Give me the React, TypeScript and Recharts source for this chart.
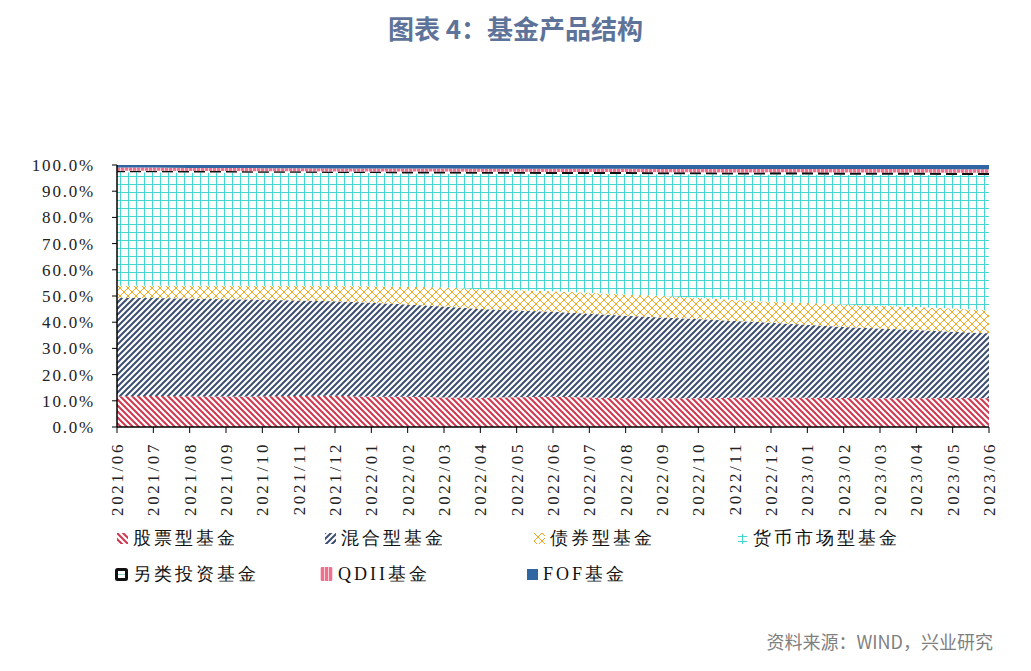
import React from "react";
import { AreaChart, Area, XAxis, YAxis } from "recharts";

const months = [
  "2021/06", "2021/07", "2021/08", "2021/09", "2021/10", "2021/11", "2021/12",
  "2022/01", "2022/02", "2022/03", "2022/04", "2022/05", "2022/06", "2022/07",
  "2022/08", "2022/09", "2022/10", "2022/11", "2022/12", "2023/01", "2023/02",
  "2023/03", "2023/04", "2023/05", "2023/06",
];

// shares in %
const stock = [11.7, 11.8, 11.7, 11.6, 11.7, 11.8, 11.9, 11.5, 11.5, 11.3, 11.2, 11.4, 11.5, 11.3, 11.0, 11.0, 11.0, 11.2, 11.3, 11.2, 11.1, 11.0, 11.0, 11.1, 11.0];
const mixed = [37.6, 37.4, 37.3, 37.2, 36.9, 36.5, 36.1, 35.9, 35.3, 34.7, 33.8, 33.1, 32.5, 31.9, 31.5, 30.8, 30.2, 29.3, 28.5, 27.8, 27.1, 26.6, 26.0, 25.3, 24.8];
const bond = [4.6, 4.7, 4.9, 5.1, 5.2, 5.5, 5.8, 6.3, 6.7, 7.2, 7.6, 7.7, 7.8, 8.0, 8.1, 8.2, 8.1, 8.0, 8.0, 8.3, 8.6, 8.7, 8.8, 8.8, 8.7];
const money = [43.3, 43.3, 43.2, 43.2, 43.2, 43.2, 43.1, 43.2, 43.3, 43.6, 44.1, 44.5, 44.8, 45.4, 46.0, 46.5, 47.2, 47.9, 48.6, 49.1, 49.5, 50.0, 50.5, 51.0, 51.7];
const alt = [0.6, 0.6, 0.6, 0.6, 0.6, 0.6, 0.6, 0.6, 0.7, 0.7, 0.7, 0.7, 0.7, 0.7, 0.7, 0.7, 0.7, 0.7, 0.8, 0.8, 0.8, 0.8, 0.8, 0.8, 0.8];
const qdii = [1.2, 1.2, 1.2, 1.2, 1.2, 1.2, 1.2, 1.2, 1.2, 1.2, 1.2, 1.2, 1.3, 1.3, 1.3, 1.3, 1.3, 1.4, 1.3, 1.3, 1.4, 1.4, 1.4, 1.4, 1.4];
const fof = [1.0, 1.0, 1.1, 1.1, 1.2, 1.2, 1.3, 1.3, 1.3, 1.3, 1.4, 1.4, 1.4, 1.4, 1.4, 1.5, 1.5, 1.5, 1.5, 1.5, 1.5, 1.5, 1.5, 1.6, 1.6];

const yTicks = [0, 10, 20, 30, 40, 50, 60, 70, 80, 90, 100];

const data = months.map((m, i) => ({
  month: m,
  stock: stock[i],
  mixed: mixed[i],
  bond: bond[i],
  money: money[i],
  alt: alt[i],
  qdii: qdii[i],
  fof: fof[i],
}));

const series = [
  { key: "stock", name: "股票型基金", fill: "url(#p-stock)" },
  { key: "mixed", name: "混合型基金", fill: "url(#p-mixed)" },
  { key: "bond", name: "债券型基金", fill: "url(#p-bond)" },
  { key: "money", name: "货币市场型基金", fill: "url(#p-money)" },
  { key: "alt", name: "另类投资基金", fill: "url(#p-alt)" },
  { key: "qdii", name: "QDII基金", fill: "url(#p-qdii)" },
  { key: "fof", name: "FOF基金", fill: "#2F65A0" },
];

const serif = "serif";

function Patterns() {
  return (
    <svg width={0} height={0} style={{ position: "absolute" }}>
      <defs>
        <pattern id="p-stock" width={6} height={6} patternUnits="userSpaceOnUse">
          <rect width={6} height={6} fill="#fff" />
          <path d="M0,0 L6,6 M-1,5 L1,7 M5,-1 L7,1" stroke="#D2374F" strokeWidth={2} />
        </pattern>
        <pattern id="p-mixed" width={6} height={6} patternUnits="userSpaceOnUse">
          <rect width={6} height={6} fill="#fff" />
          <path d="M0,6 L6,0 M-1,1 L1,-1 M5,7 L7,5" stroke="#3D4F70" strokeWidth={2} />
        </pattern>
        <pattern id="p-bond" width={8} height={8} patternUnits="userSpaceOnUse">
          <rect width={8} height={8} fill="#fff" />
          <path d="M0,0 L8,8 M8,0 L0,8" stroke="#F5A31A" strokeWidth={1} />
        </pattern>
        <pattern id="p-money" width={8} height={8} patternUnits="userSpaceOnUse">
          <rect width={8} height={8} fill="#fff" />
          <path d="M0.5,0 L0.5,8 M0,0.5 L8,0.5" stroke="#45D8D0" strokeWidth={1} />
        </pattern>
        <pattern id="p-alt" width={16} height={3} patternUnits="userSpaceOnUse">
          <rect width={16} height={3} fill="#fff" />
          <rect x={2} y={0} width={11} height={3} fill="#111" />
        </pattern>
        <pattern id="p-qdii" width={4} height={4} patternUnits="userSpaceOnUse">
          <rect width={4} height={4} fill="#EF6F8C" />
          <rect x={0} y={0} width={1} height={4} fill="#fbd3dc" />
        </pattern>
      </defs>
    </svg>
  );
}

function YTick(props: any) {
  const { x, y, payload } = props;
  return (
    <text x={x} y={y} dy="0.35em" textAnchor="end" fontSize={17} fill="#222" style={{ fontFamily: serif }} letterSpacing={1.8}>
      {`${Number(payload.value).toFixed(1)}%`}
    </text>
  );
}

function XTick(props: any) {
  const { x, y, payload } = props;
  return (
    <text
      transform={`translate(${x},${y}) rotate(-90)`}
      dy="0.35em"
      textAnchor="end"
      fontSize={17}
      fill="#222"
      style={{ fontFamily: serif }}
      letterSpacing={2.6}
    >
      {payload.value}
    </text>
  );
}

function LegendIcon({ k }: { k: string }) {
  if (k === "alt") {
    return (
      <svg width={13} height={13}>
        <rect x={1.5} y={1.5} width={10} height={10} fill="#fff" stroke="#111" strokeWidth={3} rx={1} />
        <path d="M3,6.5 L10,6.5" stroke="#9cc" strokeWidth={1} />
      </svg>
    );
  }
  if (k === "fof") {
    return (
      <svg width={11} height={11}>
        <rect width={11} height={11} fill="#2F65A0" />
      </svg>
    );
  }
  if (k === "qdii") {
    return (
      <svg width={13} height={14}>
        <rect width={13} height={14} rx={2} fill="url(#p-qdii)" />
      </svg>
    );
  }
  if (k === "money") {
    return (
      <svg width={11} height={11}>
        <path d="M1,3.5 L10,3.5 M1,8.5 L10,8.5 M5.5,1 L5.5,11" stroke="#45D8D0" strokeWidth={1} />
      </svg>
    );
  }
  return (
    <svg width={11} height={11}>
      <rect width={11} height={11} fill={series.find((s) => s.key === k)!.fill} />
    </svg>
  );
}

const legendPos: Record<string, { left: number; top: number }> = {
  stock: { left: 117, top: 538 },
  mixed: { left: 325, top: 538 },
  bond: { left: 534, top: 538 },
  money: { left: 737, top: 538 },
  alt: { left: 115, top: 574 },
  qdii: { left: 320, top: 574 },
  fof: { left: 527, top: 574 },
};

export default function App() {
  return (
    <div style={{ position: "absolute", left: 0, top: 0, width: 1031, height: 671, background: "#fff", overflow: "hidden" }}>
      <Patterns />
      <div
        style={{
          position: "absolute",
          top: 10,
          left: 0,
          width: 1031,
          textAlign: "center",
          fontFamily: "'Noto Sans CJK SC', sans-serif",
          fontWeight: 700,
          fontSize: 26,
          color: "#5E7399",
          lineHeight: "36px",
        }}
      >
        图表 4：基金产品结构
      </div>
      <AreaChart
        width={1031}
        height={671}
        data={data}
        margin={{ top: 165, right: 42, bottom: 154, left: 0 }}
        style={{ position: "absolute", left: 0, top: 0 }}
      >
        <XAxis
          dataKey="month"
          height={90}
          interval={0}
          tick={<XTick />}
          tickSize={6}
          tickMargin={9}
          stroke="#000"
          axisLine={{ stroke: "#000", strokeWidth: 1.5 }}
          tickLine={{ stroke: "#000" }}
        />
        <YAxis
          width={117}
          domain={[0, 100]}
          ticks={yTicks}
          allowDataOverflow
          tick={<YTick />}
          tickSize={5}
          tickMargin={17}
          axisLine={{ stroke: "#000", strokeWidth: 1.5 }}
          tickLine={{ stroke: "#000" }}
        />
        {series.map((s) => (
          <Area
            key={s.key}
            type="linear"
            dataKey={s.key}
            name={s.name}
            stackId="1"
            stroke="none"
            fill={s.fill}
            fillOpacity={1}
            isAnimationActive={false}
          />
        ))}
      </AreaChart>
      {series.map((s) => (
        <div
          key={s.key}
          style={{
            position: "absolute",
            left: legendPos[s.key].left,
            top: legendPos[s.key].top - 13,
            height: 26,
            display: "flex",
            alignItems: "center",
            fontFamily: serif,
            fontSize: 18,
            letterSpacing: 3,
            color: "#111",
            whiteSpace: "nowrap",
          }}
        >
          <LegendIcon k={s.key} />
          <span style={{ marginLeft: 5 }}>{s.name}</span>
        </div>
      ))}
      <div
        style={{
          position: "absolute",
          right: 38,
          top: 628,
          fontFamily: "'Noto Sans CJK SC', sans-serif",
          fontSize: 18,
          color: "#7f7f7f",
          lineHeight: "26px",
        }}
      >
        资料来源：WIND，兴业研究
      </div>
    </div>
  );
}
